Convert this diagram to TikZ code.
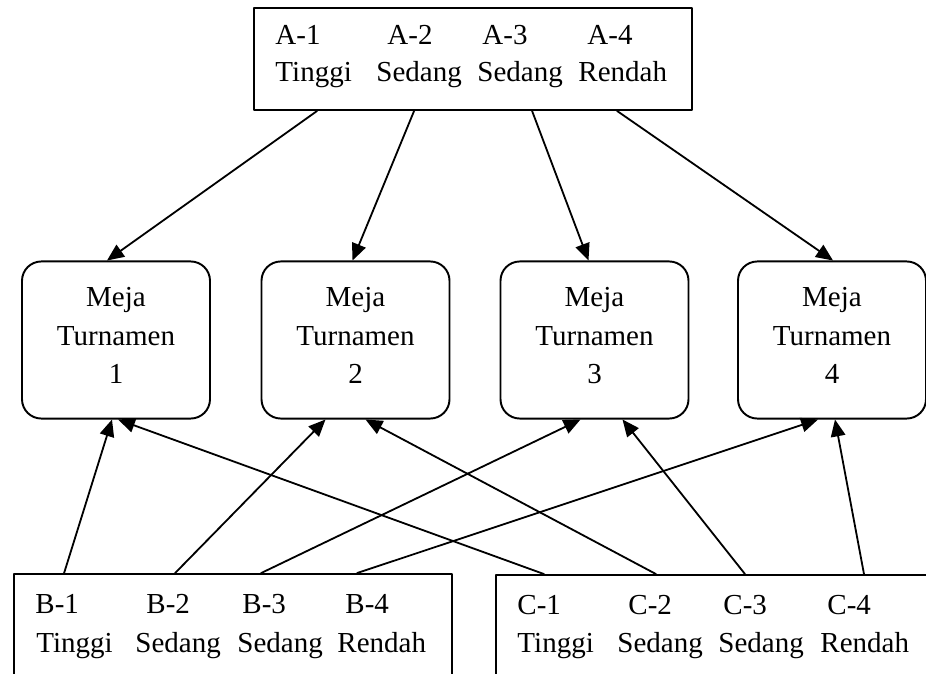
\documentclass[tikz,border=0pt]{standalone}
\usepackage{fontspec}
\setmainfont{Liberation Serif}
\usetikzlibrary{calc,arrows.meta}

\tikzset{
  grp/.style={draw, line width=0.8pt, inner sep=0pt},
  meja/.style={draw, line width=0.8pt, rounded corners=8pt,
    minimum width=77.8pt, minimum height=65pt, align=center,
    text depth=3.7pt, font=\fontsize{12}{16}\selectfont},
  lbl/.style={anchor=base west, inner sep=0pt, font=\fontsize{12}{14}\selectfont},
  arr/.style={-{Triangle[length=7pt,width=6pt]}, line width=0.75pt}
}

\begin{document}
\begin{tikzpicture}[x=0.4138pt, y=-0.4138pt, line cap=round, line join=round]
    \useasboundingbox (0,0) rectangle (926,674);
    \clip (0,0) rectangle (926,674);

    % --- groups ---
    \node[grp, minimum width=181.2pt, minimum height=42.2pt] (a) at (473,59) {};
    \node[grp, minimum width=181.2pt, minimum height=52.1pt] (b) at (233,637) {};
    \node[grp, minimum width=187.9pt, minimum height=51.7pt] (c) at (723,637.5) {};

    % group A labels
    \foreach \t/\x [count=\i] in {A-1/275, A-2/387, A-3/482, A-4/587}
      \node[lbl] (ak\i) at (\x,45) {\t};
    \foreach \t/\x [count=\i] in {Tinggi/275, Sedang/376, Sedang/477, Rendah/578}
      \node[lbl] (al\i) at (\x,82) {\t};

    % group B labels
    \foreach \t/\x [count=\i] in {B-1/35, B-2/146, B-3/242, B-4/345}
      \node[lbl] (bk\i) at (\x,613) {\t};
    \foreach \t/\x [count=\i] in {Tinggi/36, Sedang/135, Sedang/237, Rendah/337}
      \node[lbl] (bl\i) at (\x,652) {\t};

    % group C labels
    \foreach \t/\x [count=\i] in {C-1/517, C-2/628, C-3/723, C-4/827}
      \node[lbl] (ck\i) at (\x,614) {\t};
    \foreach \t/\x [count=\i] in {Tinggi/517, Sedang/617, Sedang/718, Rendah/820}
      \node[lbl] (cl\i) at (\x,652) {\t};

    % --- tournament tables ---
    \foreach \x [count=\i] in {116,355.5,594.5,832}
      \node[meja] (m\i) at (\x,340) {Meja\\Turnamen\\\i};

    % A -> tables
    \foreach \s/\i/\d in {64/1/-9, 161/2/-3, 279/3/-6, 364/4/1}
      \draw[arr] ($(a.south west)+(\s,0)$) -- ($(m\i.north)+(\d,0)$);

    % B and C -> tables
    \foreach \s/\i/\d in {51/1/-4, 162/2/-30, 248/3/-14, 344/4/-14}
      \draw[arr] ($(b.north west)+(\s,0)$) -- ($(m\i.south)+(\d,0)$);
    \foreach \s/\i/\d in {49/1/2, 161/2/10, 250/3/28, 369/4/3}
      \draw[arr] ($(c.north west)+(\s,0)$) -- ($(m\i.south)+(\d,0)$);
\end{tikzpicture}
\end{document}
